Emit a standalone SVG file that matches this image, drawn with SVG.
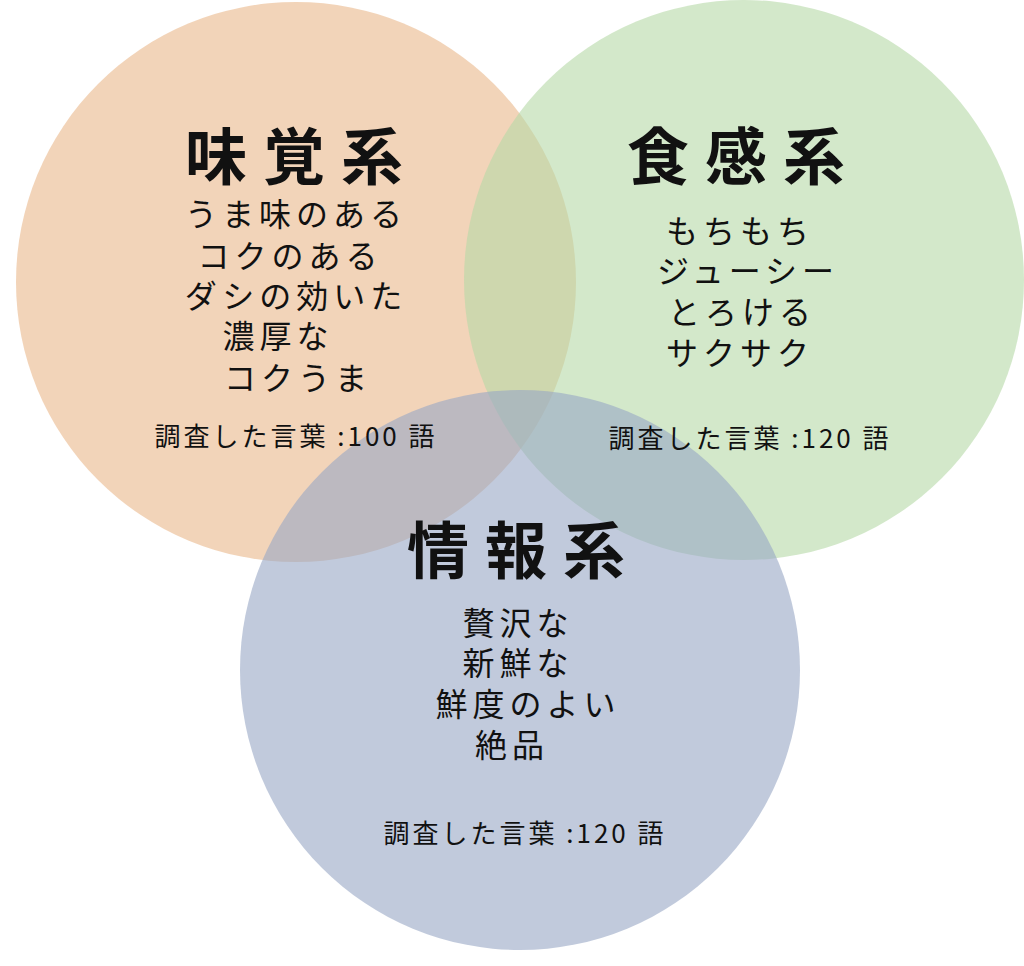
<svg xmlns="http://www.w3.org/2000/svg" width="1024" height="966" viewBox="0 0 1024 966">
<style>
text{font-family:"Noto Sans CJK JP","Noto Sans",sans-serif;fill:#111;text-anchor:middle}
.t{font-size:62px;font-weight:bold;letter-spacing:16px}
.b{font-size:32px;letter-spacing:5px}
.s{font-size:26px;letter-spacing:3px}
</style>
<rect width="1024" height="966" fill="#fff"/>
<g id="taste"><circle cx="296" cy="282" r="280" fill="#eab78a" fill-opacity="0.6"/></g>
<g id="texture"><circle cx="744" cy="280" r="280" fill="#b5d8a6" fill-opacity="0.6"/></g>
<g id="info"><circle cx="520" cy="670" r="280" fill="#97a6c5" fill-opacity="0.6"/></g>
<g id="taste-text">
<text class="t" x="302" y="180">味覚系</text>
<text class="b" x="296" y="226">うま味のある</text>
<text class="b" x="290" y="268">コクのある</text>
<text class="b" x="296" y="308">ダシの効いた</text>
<text class="b" x="278" y="348">濃厚な</text>
<text class="b" x="298" y="390">コクうま</text>
<text class="s" x="296" y="446">調査した言葉 :100 語</text>
</g>
<g id="texture-text">
<text class="t" x="744" y="180">食感系</text>
<text class="b" x="740" y="243">もちもち</text>
<text class="b" x="748" y="283">ジューシー</text>
<text class="b" x="742" y="324">とろける</text>
<text class="b" x="740" y="365">サクサク</text>
<text class="s" x="750" y="448">調査した言葉 :120 語</text>
</g>
<g id="info-text">
<text class="t" x="524" y="574">情報系</text>
<text class="b" x="518" y="635">贅沢な</text>
<text class="b" x="518" y="675">新鮮な</text>
<text class="b" x="528" y="716">鮮度のよい</text>
<text class="b" x="512" y="757">絶品</text>
<text class="s" x="525" y="843">調査した言葉 :120 語</text>
</g>
<g id="connectors"/>
</svg>
